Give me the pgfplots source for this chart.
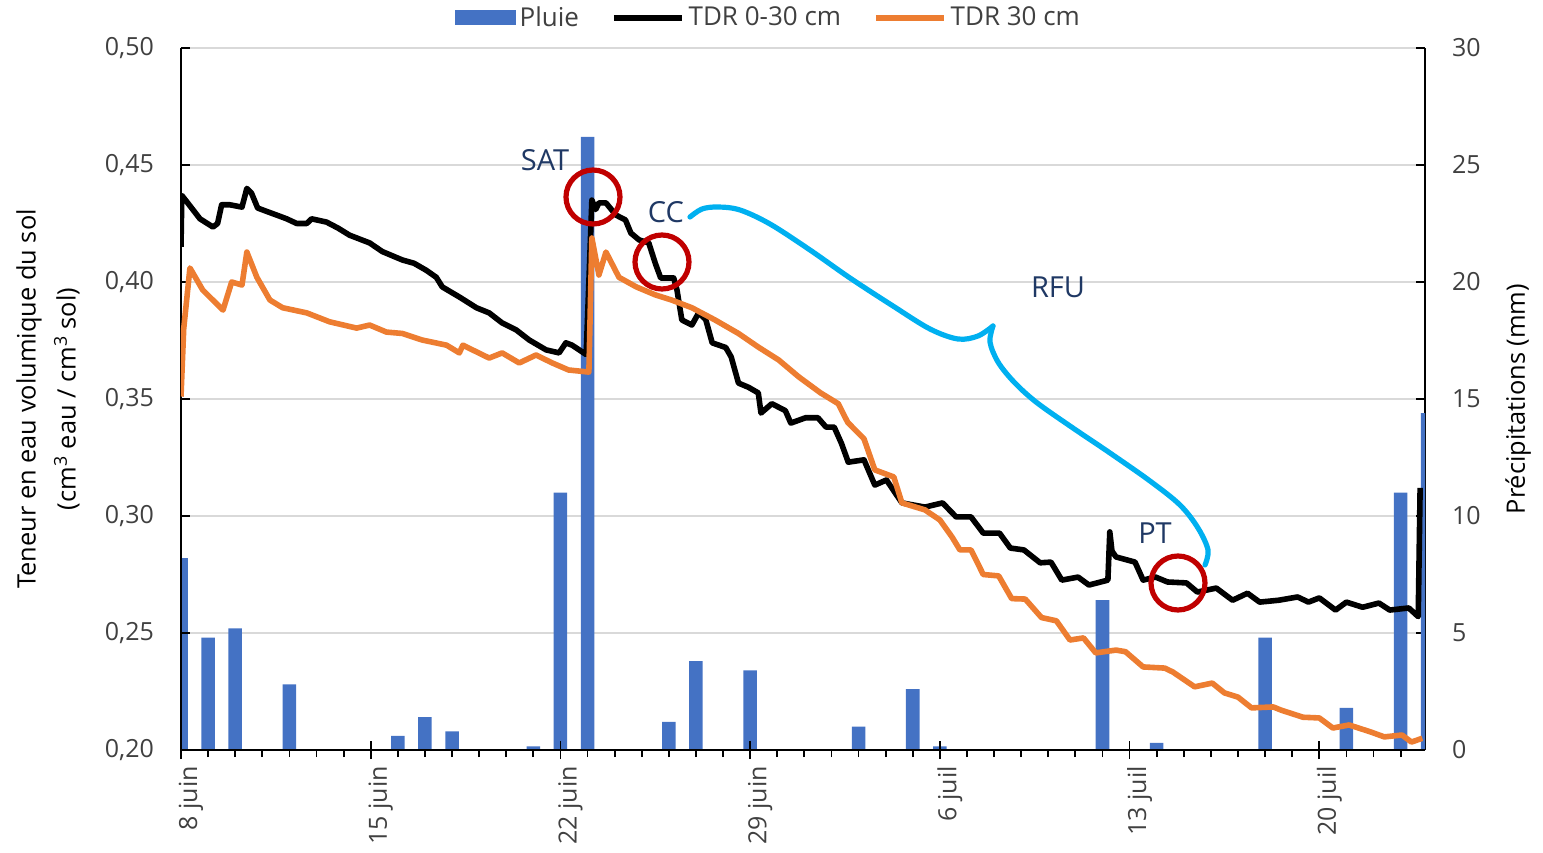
\documentclass[border=0pt]{standalone}
\usepackage{pgfplots}
\pgfplotsset{compat=1.18}
\usepackage{fontspec}
\setmainfont{Open Sans}

\definecolor{pluie}{HTML}{4472C4}
\definecolor{tdrorange}{HTML}{ED7D31}
\definecolor{cercle}{HTML}{C00000}
\definecolor{accolade}{HTML}{00B0F0}
\definecolor{marine}{HTML}{1F3864}
\definecolor{grille}{HTML}{D9D9D9}
\definecolor{ticktxt}{HTML}{404040}

% pluie journaliere (jour depuis le 8 juin, mm)
\pgfplotstableread{
d mm
0 8.2
1 4.8
2 5.2
4 2.8
8 0.6
9 1.4
10 0.8
13 0.15
14 11.0
15 26.2
18 1.2
19 3.8
21 3.4
25 1.0
27 2.6
28 0.15
34 6.4
36 0.3
40 4.8
43 1.8
45 11.0
46 14.4
}\pluie

% TDR 0-30 cm
\pgfplotstableread{
d v
0.00 0.415
0.03 0.437
0.30 0.433
0.70 0.427
1.18 0.4235
1.35 0.425
1.50 0.433
1.80 0.433
2.25 0.432
2.43 0.440
2.60 0.438
2.83 0.4316
3.20 0.430
3.53 0.4286
3.90 0.427
4.27 0.425
4.64 0.425
4.82 0.427
5.37 0.4256
5.80 0.423
6.22 0.420
6.96 0.4167
7.43 0.413
8.17 0.4094
8.60 0.408
9.05 0.405
9.42 0.402
9.64 0.3979
10.27 0.3936
10.90 0.389
11.37 0.3868
11.85 0.3825
12.37 0.3795
12.85 0.3752
13.47 0.371
13.95 0.3697
14.20 0.374
14.43 0.373
14.95 0.369
15.05 0.400
15.16 0.435
15.30 0.431
15.42 0.4338
15.68 0.4338
16.05 0.4286
16.40 0.4265
16.60 0.4209
16.90 0.418
17.26 0.4167
17.50 0.408
17.70 0.4017
18.18 0.4017
18.30 0.3966
18.48 0.3838
18.85 0.3816
19.10 0.3868
19.36 0.384
19.60 0.374
20.10 0.372
20.30 0.368
20.57 0.3568
20.94 0.355
21.30 0.3526
21.40 0.344
21.80 0.348
22.30 0.345
22.50 0.3397
23.05 0.342
23.50 0.342
23.80 0.338
24.10 0.338
24.37 0.331
24.62 0.323
25.20 0.324
25.60 0.3132
26.03 0.3154
26.60 0.3056
27.45 0.3038
28.10 0.3056
28.60 0.2996
29.15 0.2996
29.60 0.2927
30.20 0.2927
30.60 0.2863
31.10 0.2855
31.70 0.280
32.10 0.2803
32.50 0.2726
33.10 0.2739
33.50 0.2705
34.20 0.2726
34.27 0.2932
34.35 0.285
34.50 0.2825
35.20 0.2803
35.50 0.2726
35.96 0.2739
36.40 0.2718
37.10 0.2714
37.50 0.2675
38.20 0.2692
38.80 0.264
39.35 0.267
39.80 0.2632
40.50 0.264
41.20 0.2654
41.60 0.2632
42.00 0.265
42.60 0.2598
43.00 0.2632
43.60 0.261
44.20 0.2628
44.60 0.2598
45.30 0.2607
45.65 0.257
45.72 0.312
}\tdrhaut

% TDR 30 cm
\pgfplotstableread{
d v
0.00 0.351
0.10 0.380
0.33 0.406
0.80 0.3966
1.20 0.392
1.55 0.388
1.87 0.400
2.25 0.3987
2.43 0.4128
2.80 0.402
3.28 0.3923
3.75 0.389
4.64 0.3868
5.48 0.383
6.48 0.3803
6.96 0.3816
7.58 0.3786
8.17 0.378
8.90 0.3752
9.80 0.373
10.27 0.3697
10.40 0.373
11.37 0.3675
11.85 0.3697
12.48 0.3654
13.10 0.3688
13.70 0.3654
14.30 0.3624
15.05 0.3615
15.16 0.4188
15.42 0.403
15.68 0.4128
16.16 0.402
16.80 0.3979
17.50 0.3945
18.10 0.3923
18.85 0.389
19.70 0.3838
20.57 0.378
21.30 0.3722
22.05 0.3667
22.80 0.3594
23.60 0.3526
24.25 0.348
24.60 0.340
25.20 0.333
25.60 0.3197
26.30 0.3167
26.60 0.3056
27.45 0.3026
28.00 0.2983
28.45 0.291
28.74 0.2855
29.15 0.2855
29.60 0.275
30.17 0.2744
30.65 0.2647
31.15 0.2645
31.75 0.2566
32.30 0.2552
32.80 0.247
33.30 0.2479
33.75 0.2415
34.50 0.2427
34.85 0.242
35.50 0.2355
36.30 0.235
36.60 0.2333
37.40 0.227
38.05 0.2286
38.50 0.2244
39.00 0.2226
39.50 0.218
40.30 0.2184
40.60 0.217
41.40 0.214
42.00 0.2137
42.50 0.2094
43.10 0.2107
43.90 0.2077
44.40 0.2056
45.05 0.2064
45.40 0.2034
45.80 0.205
}\tdrbas

\begin{document}
\begin{tikzpicture}
\pgfplotsset{
  base/.style={scale only axis, width=622pt, height=351pt, xmin=0, xmax=45.9,
    axis line style={line width=0.9pt, black}, tick style={line width=0.9pt, black},
    major tick length=4.5pt, tick align=inside,
    ticklabel style={font=\fontsize{12.5}{15}\selectfont, text=ticktxt},
    /pgf/number format/assume math mode=true},
}

% pluie + axe de droite
\begin{axis}[base, ymin=0, ymax=30, ytick={0,5,...,30},
  axis y line*=right, axis x line=none,
  ymajorgrids, grid style={line width=1.1pt, grille},
  yticklabel style={xshift=10pt},
  ylabel={Précipitations (mm)},
  ylabel style={at={(axis description cs:1.075,0.5)}, anchor=center, rotate=0,
    font=\fontsize{12.7}{15}\selectfont}]
  \addplot[ybar, bar width=0.5, fill=pluie, draw=none] table[x=d, y=mm] {\pluie};
\end{axis}

% axe des dates
\begin{axis}[base, ymin=0, ymax=1, axis y line=none, axis x line*=bottom,
  tick align=center, major tick length=9pt, minor tick length=3.5pt,
  minor tick style={yshift=-1.75pt},
  xtick={0,7,14,21,28,35,42},
  xticklabels={8 juin,15 juin,22 juin,29 juin,6 juil,13 juil,20 juil},
  minor xtick={0,1,...,45},
  xticklabel style={rotate=90, anchor=east, yshift=-5pt}]
  \addplot[draw=none] coordinates {(0,0)};
\end{axis}

% teneurs en eau + axe de gauche
\begin{axis}[base, ymin=0.2, ymax=0.5,
  ytick={0.20,0.25,0.30,0.35,0.40,0.45,0.50},
  axis y line*=left, axis x line=none,
  yticklabel style={/pgf/number format/.cd, fixed, fixed zerofill, precision=2, use comma, /tikz/.cd, xshift=-10pt},
  ylabel={Teneur en eau volumique du sol\\(cm\textsuperscript{3} eau / cm\textsuperscript{3} sol)},
  ylabel style={at={(axis description cs:-0.107,0.5)}, anchor=center, align=center,
    font=\fontsize{12.7}{20}\selectfont},
  legend columns=3,
  legend style={at={(axis description cs:0.473,1.043)}, anchor=center, draw=none, fill=none,
    font=\fontsize{13}{15}\selectfont, text=ticktxt,
    /tikz/every even column/.append style={column sep=14pt}},
  legend image code/.code={\draw[#1] (0pt,0pt) -- (34pt,0pt);}]
  \addlegendimage{legend image code/.code={\fill[pluie] (0pt,-3.5pt) rectangle (30pt,3.5pt);}}
  \addlegendentry{Pluie}
  \addplot[black, line width=2.8pt, line join=round] table[x=d, y=v] {\tdrhaut};
  \addlegendentry{TDR 0-30 cm}
  \addplot[tdrorange, line width=2.8pt, line join=round] table[x=d, y=v] {\tdrbas};
  \addlegendentry{TDR 30 cm}
\end{axis}

% annotations (coordonnees en pixels de l'image)
\begin{scope}[x=0.5pt, y=-0.5pt, shift={(-181,-750)}]
  \draw[accolade, line width=2.6pt, line cap=round] plot[smooth, tension=0.55] coordinates {
    (690,217) (702,209) (718,207) (740,210) (770,224) (810,250) (850,278)
    (893,306) (930,329) (958,339) (978,336) (993,326)};
  \draw[accolade, line width=2.6pt, line cap=round] plot[smooth, tension=0.55] coordinates {
    (993,326) (990,342) (998,362) (1014,382) (1036,402) (1070,426) (1110,453)
    (1150,481) (1180,505) (1198,528) (1208,550) (1205,565)};
  \draw[cercle, line width=2.6pt] (593,197) circle[radius=13.5pt];
  \draw[cercle, line width=2.6pt] (662,262) circle[radius=13.5pt];
  \draw[cercle, line width=2.6pt] (1178,583) circle[radius=13.5pt];
  \begin{scope}[every node/.style={font=\fontsize{14.5}{17}\selectfont, text=marine}]
    \node at (545,160) {SAT};
    \node at (666,212) {CC};
    \node at (1058,287) {RFU};
    \node at (1155,533) {PT};
  \end{scope}
  \pgfresetboundingbox
  \path (0,0) rectangle (1543,852);
\end{scope}
\end{tikzpicture}
\end{document}
